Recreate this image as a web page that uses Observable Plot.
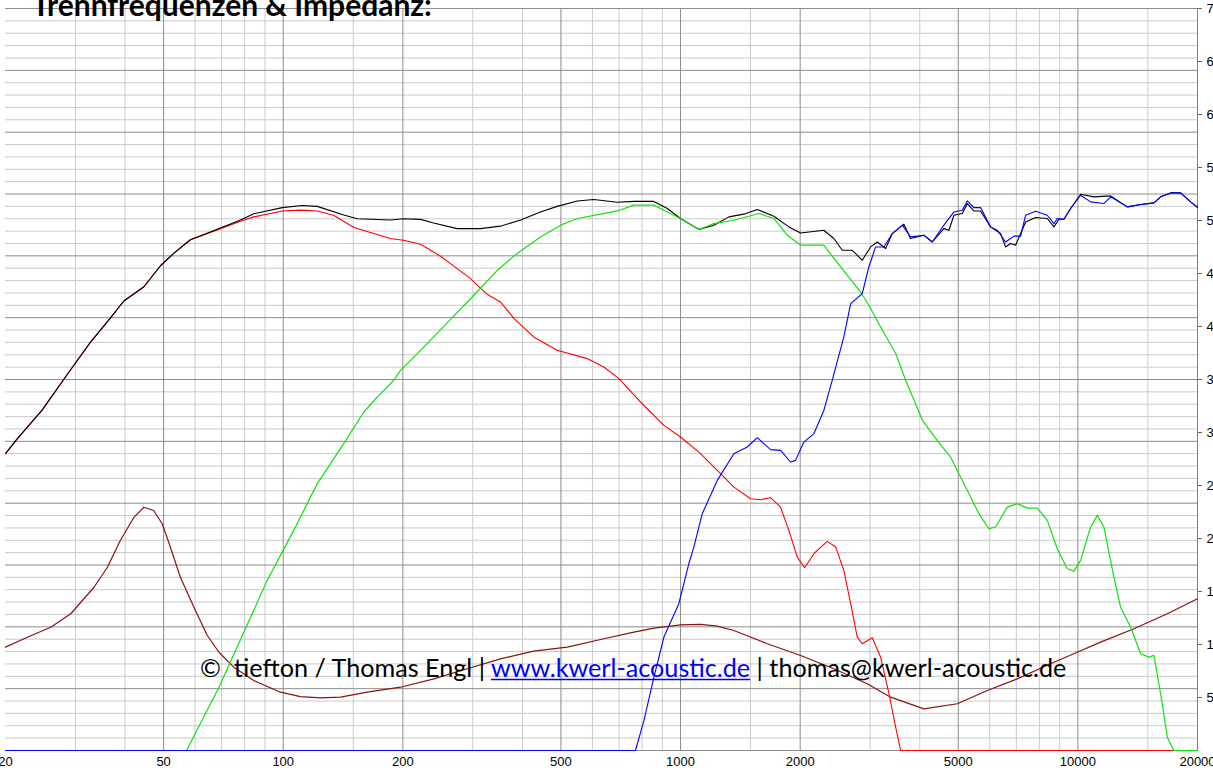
<!DOCTYPE html>
<html><head><meta charset="utf-8">
<script src="https://cdn.jsdelivr.net/npm/d3@7"></script>
<script src="https://cdn.jsdelivr.net/npm/@observablehq/plot@0.6"></script>
<style>
html,body{margin:0;padding:0;background:#fff;overflow:hidden;}
#chart{position:relative;width:1213px;height:770px;}
</style></head><body><div id="chart"></div>
<script>
// ---- data (frequency in Hz, level in dB / impedance in Ohm) ----
const freqLabels = [20, 50, 100, 200, 500, 1000, 2000, 5000, 10000, 20000];
const freqMajor = [50, 100, 200, 500, 1000, 2000, 5000, 10000];
const freqMinor = [30, 40, 60, 70, 80, 90, 150, 300, 400, 600, 700, 800, 900, 1500, 3000, 4000, 6000, 7000, 8000, 9000, 15000];
const ohmTicks = [5, 10, 15, 20, 25, 30, 35, 40, 45, 50, 55, 60, 65, 70];

const total = [[20,64.0],[21.4,65.2],[24.7,67.5],[28.6,70.4],[32.7,73.0],[36.8,75.0],[39.7,76.35],[44.6,77.5],[49.1,79.2],[53,80.2],[58.4,81.3],[68.2,82.15],[78.1,82.9],[84.3,83.4],[99.4,83.9],[111.6,84.07],[121.8,84.0],[142,83.3],[153.6,83.0],[186,82.9],[200.8,83.0],[221.6,82.95],[239,82.66],[274,82.2],[314,82.2],[352,82.4],[396,82.9],[444,83.55],[489,84.0],[550,84.44],[605,84.55],[693,84.33],[763,84.4],[857,84.4],[926,83.83],[1000,83.02],[1112,82.13],[1213,82.48],[1323,83.15],[1443,83.37],[1560,83.75],[1717,83.2],[1873,82.34],[2005,81.85],[2294,82.07],[2431,81.4],[2553,80.45],[2705,80.45],[2866,79.64],[3008,80.72],[3128,81.12],[3282,80.59],[3411,81.8],[3648,82.56],[3792,81.4],[4096,81.67],[4300,81.12],[4600,82.2],[4736,82.07],[4876,83.28],[5118,83.42],[5268,84.23],[5473,83.63],[5690,83.63],[6030,82.34],[6390,81.8],[6577,80.72],[6770,81.0],[6970,80.86],[7386,82.74],[7828,83.1],[8376,83.02],[8704,82.34],[8958,82.96],[9222,82.96],[9587,83.83],[10158,84.98],[10975,84.77],[12086,84.85],[13322,83.96],[14386,84.15],[15538,84.28],[16150,84.77],[17114,85.09],[18140,85.09],[19214,84.36],[20000,83.9]];

const woofer = [[20,64.0],[21.4,65.2],[24.7,67.5],[28.6,70.4],[32.7,73.0],[36.8,75.0],[39.7,76.35],[44.6,77.5],[49.1,79.2],[53,80.2],[58.4,81.3],[68.2,82.1],[78.1,82.8],[84.3,83.15],[99.4,83.63],[110.5,83.7],[121.8,83.63],[133.9,83.28],[150.6,82.29],[186,81.4],[200.8,81.26],[221.6,80.94],[248.8,79.97],[274,78.97],[296,78.16],[326,76.89],[352,76.27],[381,74.93],[427,73.44],[489,72.36],[582,71.69],[641,71.01],[700,70.07],[793,68.18],[908,66.29],[1000,65.35],[1123,64.0],[1261,62.39],[1362,61.3],[1501,60.36],[1590,60.28],[1685,60.44],[1785,59.68],[1873,57.8],[1967,55.64],[2052,54.78],[2165,55.91],[2208,56.18],[2340,56.91],[2457,56.45],[2576,54.56],[2680,51.87],[2784,49.17],[2866,48.63],[3038,49.12],[3188,47.55],[3346,44.59],[3478,41.89],[3580,40],[20000,40]];

const midrange = [[57.1,40],[68.9,45.12],[79.6,49.57],[91.1,53.75],[99.4,56.04],[106.3,57.8],[121.8,61.58],[142,64.81],[159.5,67.37],[172.4,68.58],[189.8,69.94],[197.3,70.74],[221.6,72.36],[253.6,74.3],[301.8,76.81],[345.8,78.83],[388,80.19],[444,81.53],[499,82.48],[550,83.02],[629,83.37],[693,83.63],[763,84.1],[857,84.1],[926,83.55],[1000,83.02],[1112,82.13],[1213,82.6],[1362,82.88],[1575,83.42],[1717,83.02],[1856,81.67],[2005,80.86],[2294,80.86],[2528,79.1],[2838,77.08],[2978,76.0],[3188,74.25],[3479,72.1],[3686,69.94],[4062,66.7],[4426,65.08],[4780,63.73],[5118,61.84],[5268,61.04],[5634,59.15],[5970,57.94],[6206,58.07],[6642,59.68],[7038,59.96],[7458,59.6],[7906,59.6],[8376,58.61],[8874,56.32],[9402,54.7],[9770,54.51],[10160,55.37],[10764,58.07],[11190,59.01],[11630,58.07],[12320,54.02],[12806,51.59],[13570,49.98],[14386,47.82],[15092,47.55],[15538,47.69],[16150,44.59],[16790,41.08],[17444,40],[20000,40]];

const tweeter = [[20,40],[770,40],[809,42.43],[857,45.93],[908,49.17],[990,51.87],[1049,55.1],[1080,56.45],[1134,59.15],[1237,61.84],[1362,64.0],[1472,64.54],[1560,65.3],[1685,64.33],[1785,64.27],[1892,63.33],[1947,63.46],[2043,64.94],[2165,65.62],[2294,67.5],[2408,69.93],[2576,73.44],[2680,76.14],[2866,76.95],[2978,79.1],[3096,80.72],[3249,80.72],[3411,81.8],[3614,82.48],[3792,81.53],[4096,81.67],[4300,81.12],[4600,82.48],[4876,83.55],[5118,83.69],[5268,84.44],[5473,83.9],[5690,83.9],[6030,82.34],[6268,82.07],[6577,81.12],[6902,81.59],[7174,81.59],[7386,83.28],[7828,83.6],[8376,83.28],[8704,82.6],[8874,83.02],[9222,82.96],[9587,83.83],[10158,84.9],[10764,84.36],[11630,84.23],[12086,84.77],[13322,83.96],[14386,84.15],[15538,84.28],[16150,84.77],[17114,85.09],[18140,85.09],[19214,84.36],[20000,83.96]];

const impedance = [[20,9.75],[22.7,10.69],[26,11.63],[29.2,12.9],[33.4,15.4],[36.1,17.29],[38.9,19.81],[42.1,22.0],[44.6,22.95],[47.2,22.64],[49.6,21.39],[51.5,19.65],[55.1,16.35],[59.6,13.52],[64.4,10.85],[68.9,9.27],[75.1,7.86],[84.3,6.6],[98.4,5.5],[110.5,5.09],[124.1,4.97],[139.4,5.03],[162.7,5.5],[197.3,5.97],[239.4,6.76],[290.6,7.71],[352,8.65],[427,9.37],[518.6,9.75],[629,10.47],[763,11.16],[857,11.54],[1000,11.86],[1123,11.89],[1237,11.73],[1362,11.32],[1653,10.07],[2005,8.96],[2431,7.71],[2950,6.29],[3378,5.03],[4096,3.93],[4970,4.41],[5916,5.66],[7038,6.76],[8536,8.18],[9964,9.27],[11406,10.22],[13836,11.48],[16786,12.9],[20000,14.31]];

const titleText = "Trennfrequenzen & Impedanz:";
const captionParts = ["©  tiefton / Thomas Engl | ", "www.kwerl-acoustic.de", " | thomas@kwerl-acoustic.de"];

// ---- scales ----
const dbMin = 40, dbMax = 100, ohmMax = 70;
const ohmToDb = z => dbMin + z * (dbMax - dbMin) / ohmMax;
const dbToOhm = d => (d - dbMin) * ohmMax / (dbMax - dbMin);
const dbMajor = d3.range(dbMin, dbMax + 1, 5);
const dbMinor = d3.range(dbMin, dbMax + 1, 1).filter(d => d % 5 !== 0);
const pts = arr => arr.map(([f, v]) => ({f, v}));
const impPts = impedance.map(([f, z]) => ({f, v: ohmToDb(z)}));

const plot = Plot.plot({
  width: 1213, height: 770,
  marginLeft: 5, marginRight: 16, marginTop: 8, marginBottom: 20,
  x: {type: "log", domain: [20, 20000], axis: null, label: null},
  y: {domain: [dbMin, dbMax], axis: null, label: null},
  style: {background: "white", fontFamily: "Liberation Sans", fontSize: "13px", color: "#000"},
  marks: [
    Plot.gridY(dbMinor, {stroke: "#c9c9c9", strokeOpacity: 1, strokeWidth: 1}),
    Plot.gridX(freqMinor, {stroke: "#cbcbcb", strokeOpacity: 1, strokeWidth: 1}),
    Plot.gridY(dbMajor, {stroke: "#8c8c8c", strokeOpacity: 1, strokeWidth: 1}),
    Plot.gridX(freqMajor, {stroke: "#8c8c8c", strokeOpacity: 1, strokeWidth: 1}),
    Plot.ruleX([20000], {stroke: "#808080", strokeWidth: 1}),
    Plot.axisX(freqLabels, {anchor: "bottom", label: null, tickSize: 0, tickPadding: 6, tickFormat: d => String(d), fontSize: 13, fontFamily: "Liberation Sans"}),
    Plot.axisY(ohmTicks.map(ohmToDb), {anchor: "right", label: null, tickSize: 4, tickPadding: 5, stroke: "#666", tickFormat: d => String(Math.round(dbToOhm(d))), fontSize: 13, fontFamily: "Liberation Sans"}),
    Plot.line(impPts, {x: "f", y: "v", stroke: "#8b1010", strokeWidth: 1.2}),
    Plot.line(pts(woofer), {x: "f", y: "v", stroke: "#ff0000", strokeWidth: 1.1}),
    Plot.line(pts(total), {x: "f", y: "v", stroke: "#000000", strokeWidth: 1.1}),
    Plot.line(pts(midrange), {x: "f", y: "v", stroke: "#10e010", strokeWidth: 1.2}),
    Plot.line(pts(tweeter), {x: "f", y: "v", stroke: "#0000ff", strokeWidth: 1.1})
  ]
});
document.getElementById("chart").appendChild(plot);

// ---- title and caption as real text ----
const svg = d3.select(plot);
const fitText = (sel, target) => {
  const w = sel.node().getComputedTextLength();
  const fs = parseFloat(sel.attr("font-size"));
  sel.attr("font-size", fs * target / w);
};
const title = svg.append("text")
  .attr("x", 32).attr("y", 16)
  .attr("text-anchor", "start")
  .attr("font-family", "Lato, 'Open Sans', sans-serif")
  .attr("font-weight", "bold").attr("font-size", 28).attr("fill", "#000")
  .text(titleText);
fitText(title, 400);

const cap = svg.append("text")
  .attr("x", 200).attr("y", 677)
  .attr("text-anchor", "start")
  .attr("font-family", "Lato, 'Open Sans', sans-serif")
  .attr("font-size", 24).attr("fill", "#000")
  .style("white-space", "pre");
const t0 = cap.append("tspan").text(captionParts[0]);
const t1 = cap.append("tspan").attr("fill", "#0000ff").text(captionParts[1]);
const t2 = cap.append("tspan").text(captionParts[2]);
fitText(cap, 867);
const l0 = t0.node().getComputedTextLength();
const l1 = t1.node().getComputedTextLength();
svg.append("line")
  .attr("x1", 200 + l0).attr("x2", 200 + l0 + l1)
  .attr("y1", 679.5).attr("y2", 679.5)
  .attr("stroke", "#0000ff").attr("stroke-width", 1.3);
</script></body></html>
